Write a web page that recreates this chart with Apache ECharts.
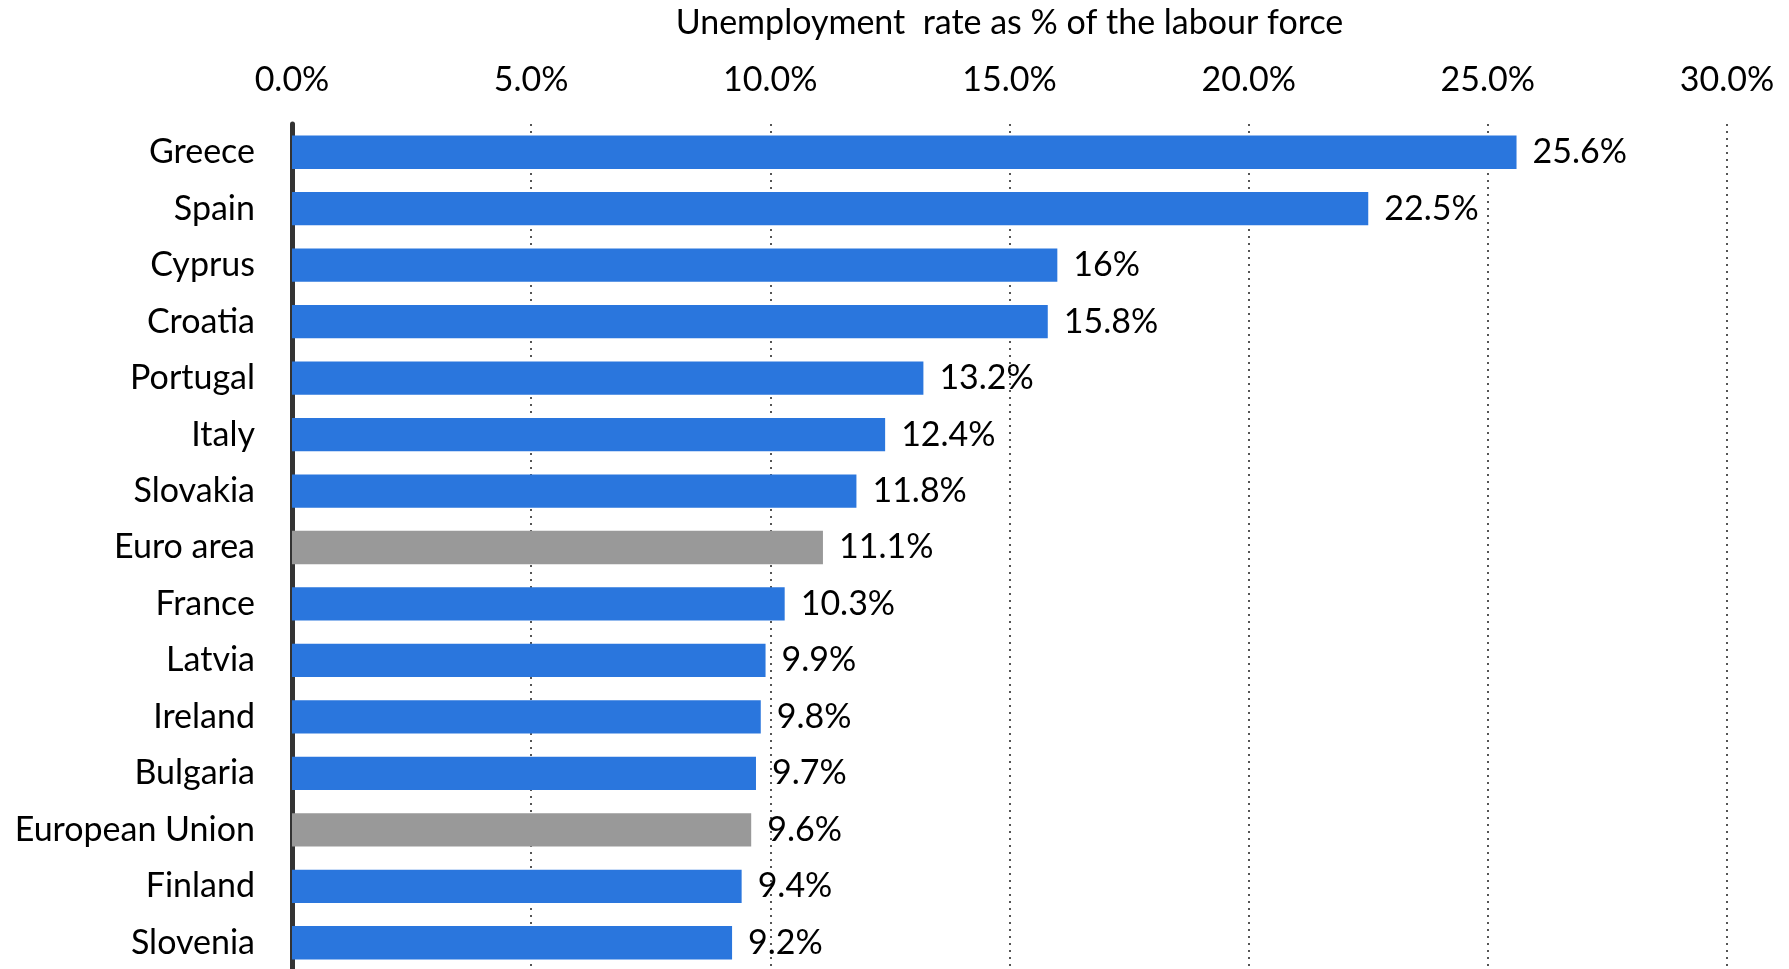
<!DOCTYPE html>
<html>
<head>
<meta charset="utf-8">
<script src="https://cdn.jsdelivr.net/npm/echarts@6/dist/echarts.min.js"></script>
<style>
html,body{margin:0;padding:0;background:#fff;}
#chart{width:1789px;height:969px;}
</style>
</head>
<body>
<div id="chart"></div>
<script>
var categories = ["Greece","Spain","Cyprus","Croatia","Portugal","Italy","Slovakia","Euro area","France","Latvia","Ireland","Bulgaria","European Union","Finland","Slovenia"];
var values = [25.6,22.5,16,15.8,13.2,12.4,11.8,11.1,10.3,9.9,9.8,9.7,9.6,9.4,9.2];
var highlighted = ["Euro area","European Union"];
var axisTitle = "Unemployment  rate as % of the labour force";

var FONT = "Lato";
var data = values.map(function(v, i){
  return {
    value: v,
    itemStyle: { color: highlighted.indexOf(categories[i]) >= 0 ? "#999999" : "#2A76DD" }
  };
});

var chart = echarts.init(document.getElementById('chart'));
chart.setOption({
  animation: false,
  grid: { left: 292, right: 62, top: 124, height: 847, containLabel: false, outerBoundsMode: 'none' },
  xAxis: {
    type: 'value',
    position: 'top',
    min: 0, max: 30, interval: 5,
    name: axisTitle,
    nameLocation: 'middle',
    nameGap: 84,
    nameTextStyle: { fontFamily: FONT, fontSize: 34, color: '#000' },
    axisLine: { show: false },
    axisTick: { show: false },
    axisLabel: {
      margin: 27,
      fontFamily: FONT, fontSize: 34, color: '#000',
      formatter: function(v){ return v.toFixed(1) + '%'; }
    },
    splitLine: { show: true, lineStyle: { type: [2, 5], color: '#555', width: 2 } }
  },
  yAxis: {
    type: 'category',
    data: categories,
    inverse: true,
    axisLine: { show: true, lineStyle: { color: '#333', width: 5 } },
    axisTick: { show: false },
    axisLabel: { margin: 37, fontFamily: FONT, fontSize: 34, color: '#000' }
  },
  series: [{
    type: 'bar',
    data: data,
    barCategoryGap: '41%',
    label: {
      show: true,
      position: 'right',
      distance: 16,
      fontFamily: FONT, fontSize: 34, color: '#000',
      formatter: function(p){ return p.value + '%'; }
    }
  }]
});
</script>
</body>
</html>
